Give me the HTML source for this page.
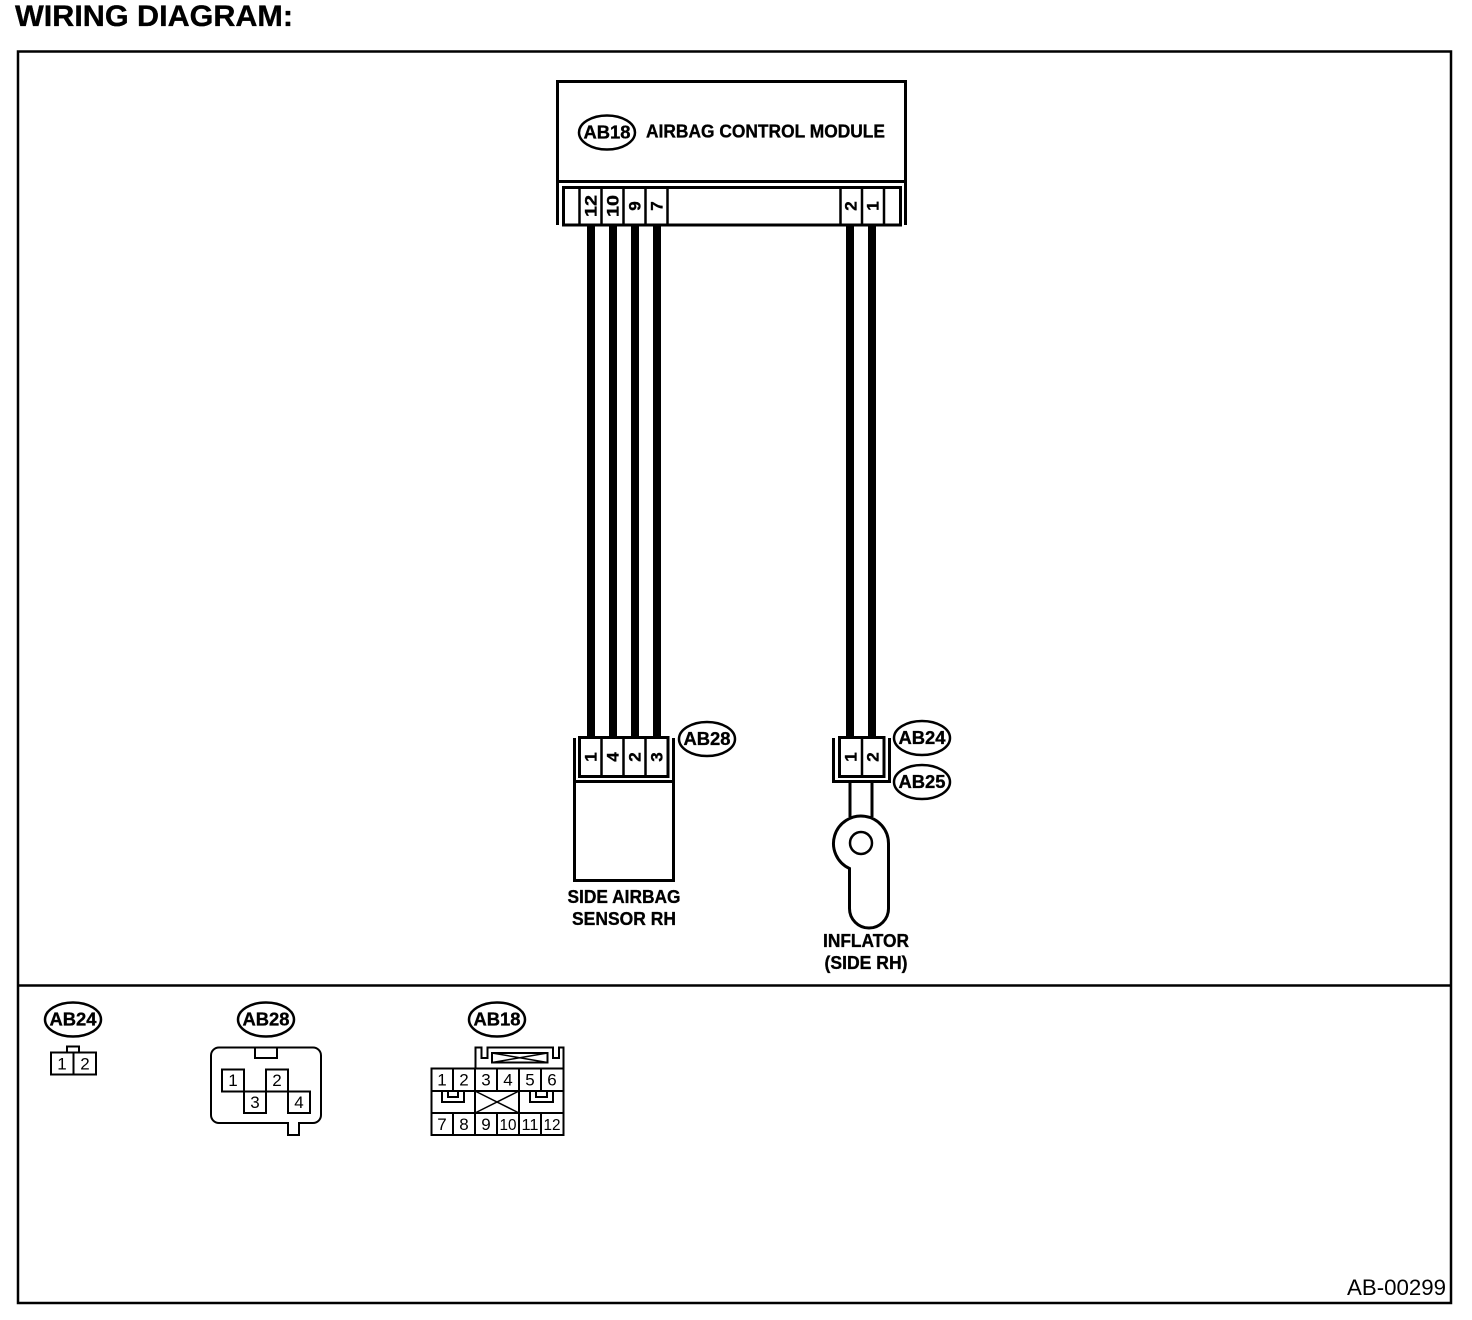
<!DOCTYPE html>
<html><head><meta charset="utf-8"><style>
html,body{margin:0;padding:0;background:#fff}
svg{display:block}
text{font-family:"Liberation Sans",sans-serif;fill:#000}
.b{font-weight:bold;stroke:#000;stroke-width:.35px}
.o{fill:#fff;stroke:#000;stroke-width:3}
.l{fill:none;stroke:#000;stroke-width:2.5}
.t{fill:none;stroke:#000;stroke-width:2}
.lab{font-size:18px;font-weight:bold;text-anchor:middle;stroke:#000;stroke-width:.35px}
.num text{font-size:17px;font-weight:bold;text-anchor:middle;stroke:#000;stroke-width:.35px}
.pin text{font-size:17px;text-anchor:middle}
.pins{font-size:16px;text-anchor:middle}
</style></head><body>
<svg width="1472" height="1320" viewBox="0 0 1472 1320" xmlns="http://www.w3.org/2000/svg">
<rect width="1472" height="1320" fill="#fff"/>
<text x="15" y="26" class="b" font-size="30" textLength="278" lengthAdjust="spacingAndGlyphs">WIRING DIAGRAM:</text>
<rect x="18" y="51.500" width="1433" height="1251.500" class="l"/>
<path d="M18 985.500H1451" class="l"/>

<!-- module -->
<path d="M557.500 225V81.500H905.500V225M557.500 181.500H905.500" class="o" style="fill:none"/>
<rect x="563.500" y="187.500" width="337" height="37.500" class="o" style="fill:none"/>
<path d="M579.500 187V225M601.500 187V225M623.500 187V225M645.500 187V225M667.500 187V225M840.500 187V225M862 187V225M884 187V225" class="l"/>
<ellipse cx="607" cy="132.500" rx="28" ry="17" class="l"/>
<text x="607" y="138.500" class="lab" textLength="47" lengthAdjust="spacingAndGlyphs">AB18</text>
<text x="646" y="137.500" class="b" font-size="18" textLength="239" lengthAdjust="spacingAndGlyphs">AIRBAG CONTROL MODULE</text>
<g class="num">
<text transform="translate(596.500,206) rotate(-90)" textLength="22" lengthAdjust="spacingAndGlyphs">12</text>
<text transform="translate(618.500,206) rotate(-90)" textLength="22" lengthAdjust="spacingAndGlyphs">10</text>
<text transform="translate(640.500,206) rotate(-90)">9</text>
<text transform="translate(662.500,206) rotate(-90)">7</text>
<text transform="translate(856.500,206) rotate(-90)">2</text>
<text transform="translate(878.500,206) rotate(-90)">1</text>
</g>

<!-- wires -->
<path d="M591 225V738M613 225V738M635 225V738M657 225V738M850 225V738M872 225V738" stroke="#000" stroke-width="8" fill="none"/>

<!-- sensor connector -->
<rect x="579.500" y="737.500" width="88.500" height="39" class="o" style="fill:#fff"/>
<path d="M601.500 737V776M623.500 737V776M645.500 737V776" class="l"/>
<path d="M574.500 738V781.500M673.500 738V781.500" class="o" style="fill:none"/>
<rect x="574.500" y="781.500" width="99" height="99" class="o" style="fill:none"/>
<g class="num">
<text transform="translate(596.500,757) rotate(-90)">1</text>
<text transform="translate(618.500,757) rotate(-90)">4</text>
<text transform="translate(640.500,757) rotate(-90)">2</text>
<text transform="translate(662.500,757) rotate(-90)">3</text>
</g>
<ellipse cx="707" cy="739" rx="28" ry="17" class="l"/>
<text x="707" y="745" class="lab" textLength="47" lengthAdjust="spacingAndGlyphs">AB28</text>
<text x="624" y="903" class="lab" textLength="113" lengthAdjust="spacingAndGlyphs">SIDE AIRBAG</text>
<text x="624" y="925" class="lab" textLength="104" lengthAdjust="spacingAndGlyphs">SENSOR RH</text>

<!-- inflator connector -->
<rect x="839.500" y="737.500" width="44.500" height="39" class="o" style="fill:#fff"/>
<path d="M862 737V776" class="l"/>
<path d="M833.500 738V781.500H889.500V738" class="o" style="fill:none"/>
<g class="num">
<text transform="translate(856.500,757) rotate(-90)">1</text>
<text transform="translate(878.500,757) rotate(-90)">2</text>
</g>
<ellipse cx="922" cy="738" rx="28" ry="17" class="l"/>
<text x="922" y="744" class="lab" textLength="47" lengthAdjust="spacingAndGlyphs">AB24</text>
<ellipse cx="922" cy="782" rx="28" ry="17" class="l"/>
<text x="922" y="788" class="lab" textLength="47" lengthAdjust="spacingAndGlyphs">AB25</text>
<path d="M850 782V817M872 782V817" class="o" style="fill:none"/>
<path d="M888.500 843.500V908.500A19.500 19.500 0 0 1 849.500 908.500V868.500A27.500 27.500 0 1 1 888.500 843.500Z" class="o" style="fill:none"/>
<circle cx="861" cy="843" r="11" class="l"/>
<text x="866" y="947" class="lab" textLength="86" lengthAdjust="spacingAndGlyphs">INFLATOR</text>
<text x="866" y="969" class="lab" textLength="83" lengthAdjust="spacingAndGlyphs">(SIDE RH)</text>

<!-- lower AB24 -->
<ellipse cx="73" cy="1019.500" rx="28" ry="17" class="l"/>
<text x="73" y="1025.500" class="lab" textLength="47" lengthAdjust="spacingAndGlyphs">AB24</text>
<rect x="51" y="1052.500" width="45" height="22" class="t"/>
<path d="M73.500 1052V1074M67 1052V1046.500H79V1052" class="t"/>
<g class="pin">
<text x="62" y="1069.500">1</text>
<text x="85" y="1069.500">2</text>
</g>

<!-- lower AB28 -->
<ellipse cx="266" cy="1019.500" rx="28" ry="17" class="l"/>
<text x="266" y="1025.500" class="lab" textLength="47" lengthAdjust="spacingAndGlyphs">AB28</text>
<path d="M219 1047.500H313A8 8 0 0 1 321 1055.500V1115A8 8 0 0 1 313 1123H299V1135H288V1123H219A8 8 0 0 1 211 1115V1055.500A8 8 0 0 1 219 1047.500Z" class="t"/>
<path d="M255 1047.500V1058H277V1047.500" class="t"/>
<path d="M222 1069.500H244V1091.500H222ZM244 1091.500H266V1113H244ZM266 1069.500H288V1091.500H266ZM288 1091.500H310V1113H288Z" class="t"/>
<g class="pin">
<text x="233" y="1086">1</text>
<text x="277" y="1086">2</text>
<text x="255" y="1108">3</text>
<text x="299" y="1108">4</text>
</g>

<!-- lower AB18 -->
<ellipse cx="497" cy="1019.500" rx="28" ry="17" class="l"/>
<text x="497" y="1025.500" class="lab" textLength="47" lengthAdjust="spacingAndGlyphs">AB18</text>
<path d="M475.500 1068V1047.500H481.500V1058H487.500V1047.500H553V1058H559V1047.500H563.500V1068" class="t"/>
<rect x="492" y="1053" width="55.500" height="9.500" class="t"/>
<path d="M492 1053L547.500 1062.500M547.500 1053L492 1062.500" class="t" style="stroke-width:1.500"/>
<rect x="431.500" y="1068.500" width="132" height="66.500" class="t"/>
<path d="M431 1091H564M431 1113H564" class="t"/>
<path d="M453 1068V1091M475 1068V1135M497 1068V1091M519 1068V1135M541 1068V1091M453 1113V1135M497 1113V1135M541 1113V1135" class="t"/>
<path d="M475 1091L519 1113M519 1091L475 1113" class="t" style="stroke-width:1.500"/>
<path d="M442 1091V1102H464V1091M448 1091V1097H458V1091M530 1091V1102H553V1091M536 1091V1097H547V1091" class="t"/>
<g class="pin">
<text x="442" y="1085.500">1</text><text x="464" y="1085.500">2</text><text x="486" y="1085.500">3</text><text x="508" y="1085.500">4</text><text x="530" y="1085.500">5</text><text x="552" y="1085.500">6</text>
<text x="442" y="1130">7</text><text x="464" y="1130">8</text><text x="486" y="1130">9</text>
</g>
<text x="508" y="1130" class="pins" textLength="17" lengthAdjust="spacingAndGlyphs">10</text>
<text x="530" y="1130" class="pins" textLength="17" lengthAdjust="spacingAndGlyphs">11</text>
<text x="552" y="1130" class="pins" textLength="17" lengthAdjust="spacingAndGlyphs">12</text>

<text x="1347" y="1295" font-size="22" textLength="99" lengthAdjust="spacingAndGlyphs">AB-00299</text>
</svg>
</body></html>
